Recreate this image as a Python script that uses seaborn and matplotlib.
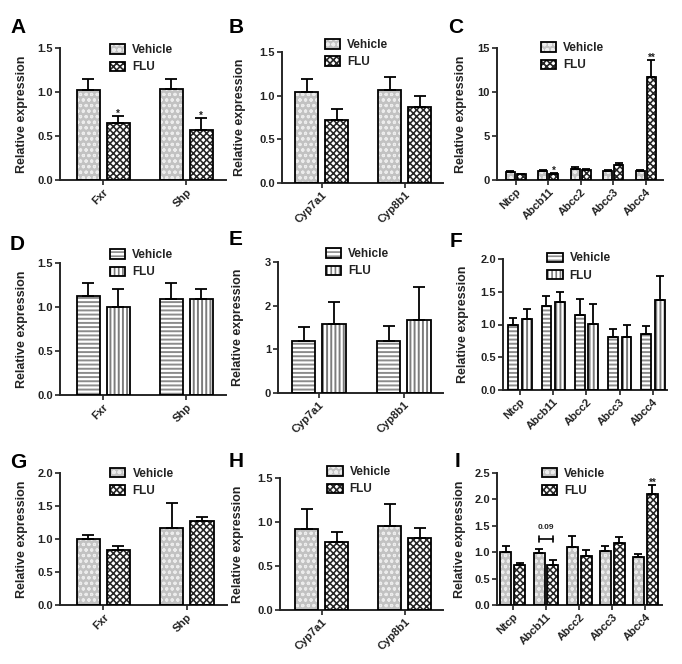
import numpy as np
import pandas as pd
import matplotlib
matplotlib.use('Agg')
import matplotlib.pyplot as plt
from matplotlib.container import BarContainer
from matplotlib.legend_handler import HandlerTuple
import seaborn as sns

# ---------------- data ----------------
groups = ['Vehicle', 'FLU']
two_genes_fxr = ['Fxr', 'Shp']
two_genes_cyp = ['Cyp7a1', 'Cyp8b1']
transporters = ['Ntcp', 'Abcb11', 'Abcc2', 'Abcc3', 'Abcc4']

# A
a_veh = [1.02, 1.03]
a_veh_err = [0.13, 0.12]
a_flu = [0.65, 0.57]
a_flu_err = [0.08, 0.13]
# B
b_veh = [1.04, 1.065]
b_veh_err = [0.15, 0.15]
b_flu = [0.72, 0.87]
b_flu_err = [0.13, 0.13]
# C
c_veh = [0.9, 1.0, 1.3, 1.0, 1.0]
c_veh_err = [0.1, 0.15, 0.15, 0.1, 0.1]
c_flu = [0.65, 0.65, 1.1, 1.7, 11.7]
c_flu_err = [0.08, 0.15, 0.15, 0.2, 1.9]
# D
d_veh = [1.12, 1.09]
d_veh_err = [0.15, 0.18]
d_flu = [1.0, 1.09]
d_flu_err = [0.2, 0.12]
# E
e_veh = [1.18, 1.2]
e_veh_err = [0.33, 0.34]
e_flu = [1.59, 1.67]
e_flu_err = [0.5, 0.76]
# F
f_veh = [0.99, 1.28, 1.15, 0.81, 0.86]
f_veh_err = [0.11, 0.16, 0.24, 0.12, 0.12]
f_flu = [1.08, 1.34, 1.01, 0.81, 1.37]
f_flu_err = [0.15, 0.16, 0.3, 0.19, 0.37]
# G
g_veh = [1.0, 1.17]
g_veh_err = [0.06, 0.38]
g_flu = [0.84, 1.27]
g_flu_err = [0.06, 0.06]
# H
h_veh = [0.92, 0.95]
h_veh_err = [0.23, 0.25]
h_flu = [0.77, 0.82]
h_flu_err = [0.12, 0.11]
# I
i_veh = [1.0, 0.99, 1.09, 1.02, 0.9]
i_veh_err = [0.12, 0.08, 0.22, 0.1, 0.07]
i_flu = [0.76, 0.76, 0.92, 1.18, 2.1]
i_flu_err = [0.04, 0.09, 0.13, 0.1, 0.17]

# ---------------- style ----------------
sns.set_style('ticks')
plt.rcParams['font.family'] = ['Liberation Sans', 'DejaVu Sans']
plt.rcParams['font.weight'] = 'bold'
plt.rcParams['axes.labelweight'] = 'bold'
plt.rcParams['text.color'] = '#222222'
plt.rcParams['axes.labelcolor'] = '#222222'
plt.rcParams['xtick.color'] = '#222222'
plt.rcParams['ytick.color'] = '#222222'
plt.rcParams['hatch.linewidth'] = 1.2

# face colours, hatch colours, hatches, hatch line widths
styles = {
    'dots': (['#c2c2c2', 'white'], ['#ececec', '#262626'], ['ooo', 'xxxxx'], [0.8, 1.15]),
    'lines': (['white', 'white'], ['#8c8c8c', '#7c7c7c'], ['----', '||||'], [1.4, 1.4]),
}

W, H = 682, 664
fig = plt.figure(figsize=(W / 100, H / 100), dpi=100)


def px_rect(l, r, t, b):
    return [l / W, 1 - b / H, (r - l) / W, (b - t) / H]


def bar_containers(ax):
    return [c for c in ax.containers if isinstance(c, BarContainer)]


def draw_panel(letter, letter_xy, rect, genes, veh, veh_err, flu, flu_err, style,
               ymax, ystep, int_ticks, xlim, width, gap, capsize, leg_xy,
               ylab_x, stars):
    ax = fig.add_axes(px_rect(*rect))
    n = len(genes)
    df = pd.DataFrame({'gene': genes * 2,
                       'group': [groups[0]] * n + [groups[1]] * n,
                       'value': veh + flu})
    faces, hcols, hatches, hlws = styles[style]
    sns.barplot(data=df, x='gene', y='value', hue='group', hue_order=groups,
                palette=faces, saturation=1, width=width, gap=gap,
                errorbar=None, legend=False, ax=ax, zorder=2)
    fill_conts = bar_containers(ax)
    for cont, hc, ht, hl in zip(fill_conts, hcols, hatches, hlws):
        for p in cont:
            p.set_hatch(ht)
            p.set_edgecolor(hc)
            p.set_linewidth(0)
            if hasattr(p, 'set_hatch_linewidth'):
                p.set_hatch_linewidth(hl)

    # upward-only error bars and significance marks
    centers = []
    for cont, vals, errs in zip(fill_conts, [veh, flu], [veh_err, flu_err]):
        xc = [p.get_x() + p.get_width() / 2 for p in cont]
        centers.append(xc)
        ax.errorbar(xc, vals, yerr=[np.zeros(n), errs], fmt='none', ecolor='black',
                    elinewidth=1.3, capsize=capsize, capthick=1.3, zorder=3)
    for j, mark in stars.items():
        top = flu[j] + flu_err[j]
        ax.text(centers[1][j], top - 0.005 * ymax, mark, ha='center', va='baseline',
                fontsize=7, zorder=4)

    # outlines on top
    sns.barplot(data=df, x='gene', y='value', hue='group', hue_order=groups,
                palette=['black', 'black'], fill=False, linewidth=1.3,
                width=width, gap=gap, errorbar=None, legend=False, ax=ax, zorder=4)
    out_conts = bar_containers(ax)[2:]

    ax.set_xlim(*xlim)
    ax.set_ylim(0, ymax)
    yt = np.arange(0, ymax + ystep / 2, ystep)
    ax.set_yticks(yt)
    ax.set_yticklabels([f'{v:.0f}' if int_ticks else f'{v:.1f}' for v in yt])
    ax.set_xticks(range(n))
    ax.set_xticklabels(genes, rotation=45, ha='right', rotation_mode='anchor')
    ax.tick_params(axis='both', width=1.2, length=3.5, labelsize=8, pad=1.5)
    ax.set_xlabel('')
    ax.set_ylabel('Relative expression', fontsize=9)
    ax.yaxis.set_label_coords(ylab_x, 0.5)
    sns.despine(ax=ax)
    for s in ('left', 'bottom'):
        ax.spines[s].set_linewidth(1.4)

    handles = [(fc[0], oc[0]) for fc, oc in zip(fill_conts, out_conts)]
    ax.legend(handles, groups, handler_map={tuple: HandlerTuple(ndivide=1, pad=0)},
              loc='upper left', bbox_to_anchor=leg_xy, frameon=False, fontsize=8.5,
              handlelength=1.3, handleheight=0.85, handletextpad=0.6,
              labelspacing=0.45, borderpad=0, borderaxespad=0)

    fig.text(letter_xy[0] / W, 1 - letter_xy[1] / H, letter, fontsize=15,
             fontweight='bold', ha='left', va='baseline', color='black')
    return ax


two_x = (-0.52, 1.48)

draw_panel('A', (10, 33), (60, 226, 48, 180), two_genes_fxr, a_veh, a_veh_err, a_flu, a_flu_err,
           'dots', 1.5, 0.5, False, two_x, 0.72, 0.23, 4.3, (0.30, 1.03), -0.193, {0: '*', 1: '*'})
draw_panel('B', (229, 33), (282, 443, 52, 183), two_genes_cyp, b_veh, b_veh_err, b_flu, b_flu_err,
           'dots', 1.5, 0.5, False, (-0.48, 1.46), 0.72, 0.23, 4.3, (0.267, 1.10), -0.224, {})
draw_panel('C', (448, 33), (497, 663, 48, 180), transporters, c_veh, c_veh_err, c_flu, c_flu_err,
           'dots', 15, 5, True, (-0.58, 4.53), 0.68, 0.18, 3.0, (0.265, 1.045), -0.18,
           {1: '*', 4: '**'})
draw_panel('D', (10, 250), (60, 226, 263, 395), two_genes_fxr, d_veh, d_veh_err, d_flu, d_flu_err,
           'lines', 1.5, 0.5, False, two_x, 0.72, 0.23, 4.3, (0.30, 1.106), -0.193, {})
draw_panel('E', (229, 245), (278, 443, 262, 393), two_genes_cyp, e_veh, e_veh_err, e_flu, e_flu_err,
           'lines', 3, 1, True, (-0.48, 1.46), 0.72, 0.23, 4.3, (0.29, 1.107), -0.206, {})
draw_panel('F', (450, 247), (503, 667, 259, 390), transporters, f_veh, f_veh_err, f_flu, f_flu_err,
           'lines', 2.0, 0.5, False, (-0.51, 4.42), 0.82, 0.29, 3.0, (0.27, 1.05), -0.207, {})
draw_panel('G', (10, 468), (60, 227, 473, 605), two_genes_fxr, g_veh, g_veh_err, g_flu, g_flu_err,
           'dots', 2.0, 0.5, False, two_x, 0.72, 0.23, 4.3, (0.30, 1.04), -0.193, {})
draw_panel('H', (229, 467), (280, 443, 478, 610), two_genes_cyp, h_veh, h_veh_err, h_flu, h_flu_err,
           'dots', 1.5, 0.5, False, (-0.5, 1.46), 0.72, 0.23, 4.3, (0.29, 1.09), -0.22, {})
ax_i = draw_panel('I', (455, 467), (497, 662, 473, 605), transporters, i_veh, i_veh_err, i_flu,
                  i_flu_err, 'dots', 2.5, 0.5, False, (-0.48, 4.5), 0.84, 0.21, 3.0,
                  (0.27, 1.04), -0.187, {4: '**'})

# p = 0.09 bracket on Abcb11 in panel I
i_bars = bar_containers(ax_i)
xv = i_bars[0][1]
xf = i_bars[1][1]
x0 = xv.get_x() + xv.get_width() / 2
x1 = xf.get_x() + xf.get_width() / 2
ax_i.annotate('', xy=(x0, 1.25), xytext=(x1, 1.25),
              arrowprops=dict(arrowstyle='|-|, widthA=0.25, widthB=0.25', lw=1.2,
                              color='black', shrinkA=0, shrinkB=0))
ax_i.text((x0 + x1) / 2, 1.4, '0.09', ha='center', va='bottom', fontsize=6)

fig.savefig('out.png', dpi=100)
